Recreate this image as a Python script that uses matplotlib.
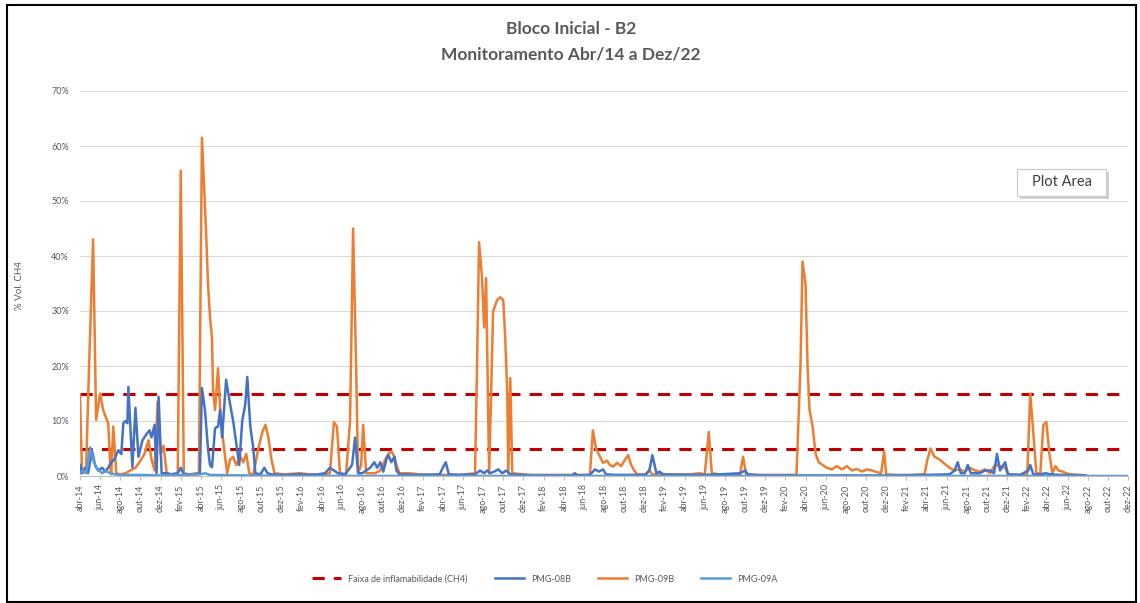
import matplotlib
matplotlib.use("Agg")
import matplotlib.pyplot as plt
import matplotlib.patches as mpatches
import numpy as np

plt.rcParams['font.family'] = ['Lato', 'DejaVu Sans']

# ---------------- data (time in months since abr/2014, values in % CH4) ----------------
month_names = ["jan", "fev", "mar", "abr", "mai", "jun", "jul", "ago", "set", "out", "nov", "dez"]

faixa_low = 5.0
faixa_high = 15.0
period_months = 104  # abr-14 .. dez-22

t_09B = [0.0, 0.2, 0.6, 0.9, 1.3, 1.6, 2.0, 2.3, 2.5, 2.8, 3.0, 3.1, 3.3, 3.6, 4.0, 4.5, 5.0, 5.5,
         5.9, 6.4, 6.8, 7.1, 7.4, 7.7, 8.0, 8.3, 8.6, 9.1, 9.7, 10.0, 10.3, 10.9, 11.5, 11.8, 12.1,
         12.5, 12.7, 12.9, 13.1, 13.2, 13.4, 13.7, 13.9, 14.2, 14.6, 14.9, 15.2, 15.5, 15.9, 16.2,
         16.5, 16.8, 17.2, 17.7, 18.1, 18.4, 18.7, 19.0, 19.3, 20.3, 21.8, 22.8, 23.8, 24.8, 25.2,
         25.5, 25.8, 26.4, 26.8, 27.1, 27.4, 27.6, 27.9, 28.1, 28.4, 28.8, 29.3, 29.8, 30.3, 30.6,
         30.9, 31.2, 31.4, 31.7, 32.7, 33.7, 35.7, 37.7, 39.2, 39.4, 39.6, 39.9, 40.1, 40.3, 40.6,
         41.0, 41.4, 41.7, 42.0, 42.2, 42.4, 42.5, 42.7, 42.9, 44.7, 47.6, 50.6, 50.9, 51.2, 51.6,
         51.9, 52.3, 52.6, 52.9, 53.3, 53.7, 54.1, 54.4, 54.7, 55.0, 55.3, 56.1, 56.5, 56.8, 57.5,
         58.5, 60.5, 61.5, 62.0, 62.4, 62.7, 63.5, 64.5, 65.5, 65.8, 66.1, 67.5, 69.4, 71.1, 71.5,
         71.7, 72.0, 72.2, 72.4, 72.7, 73.0, 73.3, 73.7, 74.1, 74.6, 75.1, 75.6, 76.1, 76.6, 77.1,
         77.6, 78.1, 78.6, 79.1, 79.5, 79.8, 80.0, 80.9, 82.3, 83.8, 84.1, 84.4, 84.8, 85.3, 85.8,
         86.3, 86.8, 87.3, 87.8, 88.3, 88.8, 89.3, 89.8, 90.3, 90.8, 91.3, 91.8, 92.1, 93.3, 94.0,
         94.3, 94.6, 94.9, 95.3, 95.6, 95.9, 96.2, 96.5, 96.8, 97.1, 97.5, 97.9, 98.3, 99.3, 99.8]
v_09B = [14.8, 0.5, 1, 20, 43, 10.2, 15, 12, 11, 9.6, 2, 0.3, 9, 0.5, 0.3, 0.5, 1, 1.5,
         2.5, 4, 6.5, 3, 1, 13.5, 4, 5.5, 0.5, 0.3, 0.5, 55.5, 0.5, 0.3, 0.5, 0.5, 61.5,
         45, 35, 29, 25, 15.6, 12, 19.6, 12.5, 6.5, 0.5, 3, 3.5, 2, 3.5, 2.5,
         4, 0.5, 0.3, 5, 8, 9.3, 7, 3, 0.5, 0.3, 0.5, 0.3, 0.3, 0.5, 9.8,
         9, 0.5, 0.3, 10, 45, 20, 0.5, 2, 9.3, 0.5, 0.5, 0.5, 1, 3, 4,
         4.5, 3.5, 2, 0.5, 0.5, 0.3, 0.2, 0.2, 0.5, 20, 42.5, 36, 27, 36, 0.5,
         30, 32, 32.5, 32, 25, 15, 0.5, 17.8, 0.5, 0.2, 0.2, 0.2, 8.3, 5, 3.5,
         2.4, 2.8, 2, 1.7, 2.4, 1.8, 3, 3.8, 2, 1, 0.3, 0.3, 1, 0.3, 0.3,
         0.3, 0.3, 0.5, 0.3, 8, 0.5, 0.3, 0.3, 0.3, 3.5, 0.3, 0.2, 0.2, 0.2, 20,
         39, 35, 20, 12, 9, 4, 2.5, 2, 1.5, 1.2, 1.8, 1.2, 1.8, 1, 1.3,
         0.8, 1.2, 1, 0.7, 0.5, 4.5, 0.3, 0.2, 0.2, 0.3, 3, 5, 3.5, 3, 2.2,
         1.5, 1, 1.2, 0.8, 1.5, 1, 0.8, 1.2, 0.5, 2, 1.8, 1.5, 0.3, 0.2, 0.3,
         15, 8, 0.5, 0.5, 9.3, 9.8, 4, 0.5, 1.8, 1, 0.8, 0.5, 0.3, 0.2, 0.1]

t_08B = [0.0, 0.2, 0.5, 0.8, 1.2, 1.5, 1.8, 2.2, 2.5, 2.8, 3.1, 3.4, 3.8, 4.1, 4.3, 4.5, 4.7, 4.8,
         5.2, 5.5, 5.8, 6.2, 6.6, 6.9, 7.1, 7.4, 7.6, 7.8, 8.1, 8.5, 9.1, 9.7, 10.0, 10.3, 10.9,
         11.5, 11.9, 12.1, 12.4, 12.7, 12.9, 13.1, 13.4, 13.7, 13.9, 14.1, 14.5, 14.9, 15.2, 15.5,
         15.8, 16.1, 16.4, 16.6, 16.9, 17.2, 17.4, 17.9, 18.3, 18.6, 19.0, 19.8, 20.8, 21.8, 22.8,
         23.6, 24.3, 24.8, 25.2, 25.6, 26.3, 27.0, 27.3, 27.6, 28.0, 28.8, 29.2, 29.5, 29.8, 30.1,
         30.4, 30.6, 30.9, 31.2, 31.4, 31.7, 32.7, 34.2, 35.7, 36.0, 36.3, 36.6, 37.7, 39.2, 39.7,
         40.1, 40.4, 40.7, 41.1, 41.5, 41.9, 42.3, 42.7, 44.7, 47.1, 48.8, 49.1, 49.4, 50.6, 51.1,
         51.5, 51.9, 52.2, 53.1, 54.6, 56.1, 56.5, 56.8, 57.2, 57.5, 57.9, 59.5, 61.5, 63.5, 65.5,
         66.0, 66.3, 67.5, 71.4, 76.4, 81.4, 86.3, 86.8, 87.1, 87.4, 87.8, 88.1, 88.4, 89.3, 89.8,
         90.3, 90.7, 91.0, 91.3, 91.8, 92.1, 93.3, 94.1, 94.3, 94.6, 95.3, 95.8, 96.3, 97.3, 99.8]
v_08B = [2, 0.5, 1.5, 0.5, 4.5, 2, 1, 1.5, 0.8, 1.5, 2.5, 3, 4.7, 4, 9.6, 10, 9.6, 16.2,
         1.6, 12.4, 3.5, 6.5, 7.6, 8.3, 7, 9.3, 0.5, 14.4, 0.5, 0.5, 0.3, 0.5, 1.5, 0.3, 0.3,
         0.3, 0.5, 16, 12, 5, 2, 1.6, 8.7, 9, 12, 7, 17.5, 13, 10, 6,
         2, 10, 13, 18, 9, 5, 0.5, 0.3, 1.5, 0.5, 0.3, 0.2, 0.2, 0.3, 0.2,
         0.3, 0.5, 1.5, 1, 0.5, 0.3, 2, 7, 0.5, 0.5, 1.5, 2.5, 1.5, 2.5, 0.8,
         3, 3.8, 2.5, 3.5, 1, 0.3, 0.2, 0.2, 0.3, 1.5, 2.5, 0.3, 0.2, 0.3, 1,
         0.5, 1, 0.5, 0.8, 1.2, 0.5, 1, 0.3, 0.1, 0.1, 0.1, 0.5, 0.1, 0.2, 1.2,
         0.8, 1.2, 0.3, 0.2, 0.2, 0.2, 1, 3.8, 0.5, 0.8, 0.3, 0.2, 0.2, 0.3, 0.5,
         1, 0.3, 0.1, 0.1, 0.1, 0.1, 0.3, 1, 2.5, 0.5, 0.5, 2, 0.5, 0.5, 1,
         1, 0.5, 4, 1, 2.5, 0.3, 0.2, 1, 2, 0.3, 0.3, 0.5, 0.3, 0.2, 0.1]

t_09A = [0.0, 0.3, 0.6, 1.0, 1.3, 1.6, 1.9, 2.2, 2.5, 3.0, 3.5, 4.0, 5.9, 7.9, 11.9, 12.4, 12.9,
         20.0, 40.0, 60.0, 80.0, 104.0]
v_09A = [0.5, 1, 0.5, 5.2, 3, 1.5, 1, 0.5, 1, 0.5, 0.3, 0.2, 0.2, 0.1, 0.3, 0.5, 0.2,
         0, 0, 0, 0, 0]

# ---------------- figure ----------------
W, H = 1140, 603
fig = plt.figure(figsize=(W / 100, H / 100), dpi=100)
fig.patch.set_facecolor("white")

# chart border
fig.add_artist(mpatches.Rectangle((7 / W, 1 / H), (1136 - 7) / W, (598 - 1) / H,
                                  transform=fig.transFigure, fill=False,
                                  edgecolor="black", linewidth=1.5))

ax = fig.add_axes([80 / W, (H - 476) / H, (1128 - 80) / W, (476 - 91) / H])

grey = "#595959"
ax.set_ylim(0, 70)
ax.set_xlim(0, period_months)
ax.set_yticks(np.arange(0, 71, 10))
ax.set_yticklabels([f"{v}%" for v in range(0, 71, 10)], fontsize=6.5, color=grey)
ax.yaxis.grid(True, color="#D9D9D9", linewidth=0.8)
ax.set_axisbelow(True)

xt = np.arange(0, period_months + 1, 2)
labels = []
for m in xt:
    mi = (3 + m) % 12
    yr = 14 + (3 + m) // 12
    labels.append(f"{month_names[mi]}-{yr}")
ax.set_xticks(xt)
ax.set_xticklabels(labels, rotation=90, fontsize=6.5, color=grey)

for s in ["top", "right", "left"]:
    ax.spines[s].set_visible(False)
ax.spines["bottom"].set_color("#BFBFBF")
ax.tick_params(axis="y", length=0, pad=8)
ax.tick_params(axis="x", length=3, color="#BFBFBF", pad=3)

# series
ax.plot([0, period_months, np.nan, 0, period_months],
        [faixa_high, faixa_high, np.nan, faixa_low, faixa_low],
        color="#C00000", linestyle=(0, (4, 3)), linewidth=2.2,
        label="Faixa de inflamabilidade (CH4)", zorder=2)
ax.plot(t_08B, v_08B, color="#4472C4", linewidth=1.8, label="PMG-08B", zorder=4)
ax.plot(t_09B, v_09B, color="#ED7D31", linewidth=1.8, label="PMG-09B", zorder=3)
ax.plot(t_09A, v_09A, color="#5B9BD5", linewidth=1.8, label="PMG-09A", zorder=5)

# titles
fig.text(571 / W, 1 - 29 / H, "Bloco Inicial - B2", ha="center", va="center",
         fontsize=12.5, fontweight="bold", color=grey)
fig.text(571 / W, 1 - 54 / H, "Monitoramento Abr/14 a Dez/22", ha="center", va="center",
         fontsize=12.5, fontweight="bold", color=grey)
fig.text(20 / W, 1 - 285 / H, "% Vol. CH4", rotation=90, ha="center", va="center",
         fontsize=7, color=grey)

# legend
fig.legend(loc="center", bbox_to_anchor=(545 / W, 1 - 579 / H), ncol=4, frameon=False,
           fontsize=6.5, handlelength=3.2, columnspacing=3, labelcolor=grey)

# "Plot Area" tooltip with a soft shadow
fig.add_artist(mpatches.Rectangle((1020 / W, 1 - 199 / H), 89 / W, 27 / H,
                                  transform=fig.transFigure, facecolor="#BFBFBF",
                                  edgecolor="none", alpha=0.7))
fig.add_artist(mpatches.Rectangle((1017 / W, 1 - 196 / H), 89 / W, 27 / H,
                                  transform=fig.transFigure, facecolor="white",
                                  edgecolor="#C8C8C8", linewidth=0.8))
fig.text(1061.5 / W, 1 - 182.5 / H, "Plot Area", ha="center", va="center", fontsize=10.5,
         color="#404040")

fig.savefig("out.png", dpi=100, facecolor="white")
